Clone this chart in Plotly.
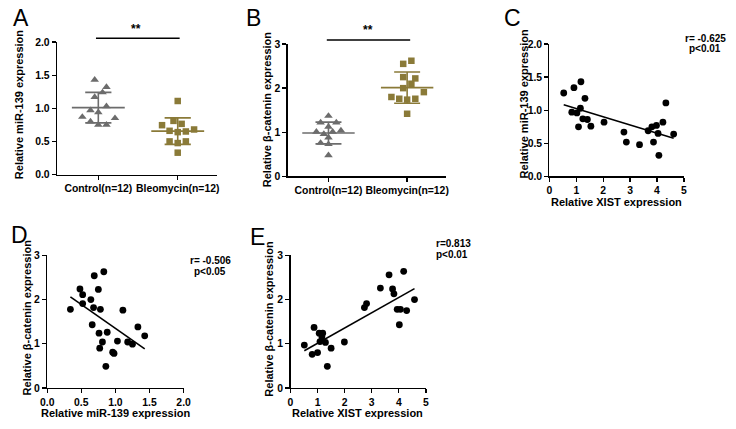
import numpy as np
import plotly.graph_objects as go

W, H = 736, 429
FONT = "Liberation Sans, Arial, sans-serif"
GRAY = "#6c6c6c"
OLIVE = "#8a7a38"

groups = ["Control(n=12)", "Bleomycin(n=12)"]

# Panel A: miR-139
a_control = [1.43, 1.32, 1.24, 1.17, 1.03, 0.97, 0.94, 0.87, 0.85, 0.80, 0.75, 0.75]
a_control_jit = [-3.7, 8.3, 4.3, -3.7, 8.3, -8, 0, -16.3, 17, -8, 0, 8.3]
a_bleo = [1.11, 0.81, 0.765, 0.745, 0.68, 0.66, 0.64, 0.65, 0.50, 0.475, 0.50, 0.33]
a_bleo_jit = [0, -4.3, 4, -16, 16.7, -8.3, 0, 8.3, -8.3, 0, 8.3, 0]

# Panel B: beta-catenin
b_control = [1.37, 1.22, 1.22, 1.125, 1.01, 1.01, 1.04, 0.96, 0.88, 0.76, 0.73, 0.48]
b_control_jit = [0, -8, 8, 0, -12.3, 4.3, 12.7, -4.7, 0, -8, 0, 0]
b_bleo = [2.62, 2.55, 2.25, 2.22, 2.10, 2.00, 1.91, 1.80, 1.76, 1.74, 1.76, 1.42]
b_bleo_jit = [4.3, -4, -4, 8.3, 4.3, -4, 17, -16, -8, 0, 8.3, 0]

# Panel C: XIST vs miR-139
c_xist = [0.53, 0.91, 1.17, 0.83, 1.02, 1.15, 1.32, 1.24, 1.41, 1.08, 1.54, 2.03,
          2.77, 2.86, 3.35, 3.67, 3.81, 3.98, 3.87, 4.04, 4.07, 4.22, 4.33, 4.62]
c_mir = [1.26, 1.34, 1.43, 0.97, 0.96, 1.03, 1.18, 0.87, 0.86, 0.75, 0.76, 0.82,
         0.67, 0.52, 0.48, 0.69, 0.75, 0.77, 0.52, 0.65, 0.32, 0.82, 1.11, 0.64]

# Panel D: miR-139 vs beta-catenin
d_mir = [0.34, 0.48, 0.52, 0.52, 0.69, 0.83, 0.64, 0.75, 0.68, 0.78, 0.66, 0.76,
         0.88, 0.81, 0.77, 0.96, 0.98, 0.86, 1.03, 1.11, 1.18, 1.25, 1.33, 1.43]
d_cat = [1.78, 2.24, 2.11, 1.91, 2.54, 2.63, 2.00, 2.23, 1.82, 1.78, 1.43, 1.24,
         1.26, 1.04, 0.90, 0.81, 0.78, 0.49, 1.06, 1.76, 1.04, 0.99, 1.38, 1.18]

# Panel E: XIST vs beta-catenin
e_xist = [0.51, 0.80, 0.87, 1.00, 1.06, 1.19, 1.09, 1.16, 1.29, 1.36, 1.50, 1.99,
          2.73, 2.81, 3.32, 3.64, 3.77, 3.82, 3.94, 4.06, 4.02, 4.18, 4.29, 4.58]
e_cat = [0.97, 0.76, 1.37, 0.80, 1.24, 1.24, 1.05, 1.16, 1.03, 0.49, 0.90, 1.04,
         1.82, 1.91, 2.26, 2.56, 2.24, 2.13, 1.78, 1.78, 1.43, 2.64, 1.75, 2.00]

stats_c = ["r= -0.625", "p<0.01"]
stats_d = ["r= -0.506", "p<0.05"]
stats_e = ["r=0.813", "p<0.01"]


def px_x(p):
    return p / W


def px_y(p):
    return 1 - p / H


# panel boxes in pixels: (x0, x1, ytop, ybottom)
boxes = {
    "A": (51, 214.5, 38, 174),
    "B": (286, 448, 40, 176),
    "C": (553, 690, 40, 176),
    "D": (41, 180, 257, 393),
    "E": (289, 427, 257, 393),
}
axnames = {"A": ("x", "y"), "B": ("x2", "y2"), "C": ("x3", "y3"), "D": ("x4", "y4"), "E": ("x5", "y5")}

fig = go.Figure()
layout = dict(
    width=W, height=H, margin=dict(l=0, r=0, t=0, b=0),
    paper_bgcolor="white", plot_bgcolor="white", showlegend=False,
    font=dict(family=FONT, color="black"),
)

tickfont = dict(family=FONT, size=10.4, color="black", weight="bold")


def axis_common():
    return dict(showline=True, linecolor="black", linewidth=1.3, ticks="outside",
                ticklen=4, tickwidth=1.3, tickcolor="black", showgrid=False,
                zeroline=False, tickfont=tickfont, fixedrange=True)


for key, (x0, x1, yt, yb) in boxes.items():
    xa, ya = axnames[key]
    xkey = "xaxis" if xa == "x" else "xaxis" + xa[1:]
    ykey = "yaxis" if ya == "y" else "yaxis" + ya[1:]
    layout[xkey] = dict(axis_common(), domain=[px_x(x0), px_x(x1)], anchor=ya)
    layout[ykey] = dict(axis_common(), domain=[px_y(yb), px_y(yt)], anchor=xa)

# category axes
cat_px = {"A": 81.0, "B": 80.0}
for key, yr, dt, tf in [("A", 2.0, 0.5, ".1f"), ("B", 3.0, 1.0, "d")]:
    xa, ya = axnames[key]
    xkey = "xaxis" if xa == "x" else "xaxis" + xa[1:]
    ykey = "yaxis" if ya == "y" else "yaxis" + ya[1:]
    layout[xkey].update(range=[-0.52, 1.5], tickvals=[0, 1], ticktext=groups)
    layout[ykey].update(range=[0, yr], dtick=dt, tick0=0, tickformat=tf)

layout["xaxis3"].update(range=[0, 5], dtick=1, tick0=0)
layout["yaxis3"].update(range=[0, 2], dtick=0.5, tick0=0, tickformat=".1f")
layout["xaxis4"].update(range=[0, 2], dtick=0.5, tick0=0, tickformat=".1f")
layout["yaxis4"].update(range=[0, 3], dtick=1, tick0=0)
layout["xaxis5"].update(range=[0, 5], dtick=1, tick0=0)
layout["yaxis5"].update(range=[0, 3], dtick=1, tick0=0)


def dot_plot(key, vals, jit, pos, color, symbol):
    xa, ya = axnames[key]
    ppu = cat_px[key]
    xs = [pos + j / ppu for j in jit]
    fig.add_trace(go.Scatter(x=xs, y=vals, mode="markers", xaxis=xa, yaxis=ya,
                             marker=dict(symbol=symbol, size=7.5 if symbol == "triangle-up" else 6.5,
                                         color=color, line=dict(width=0)),
                             cliponaxis=False))
    m = float(np.mean(vals))
    s = float(np.std(vals, ddof=1))
    hw, cw = 0.333, 0.165
    segs_x = [pos - hw, pos + hw, None, pos, pos, None,
              pos - cw, pos + cw, None, pos - cw, pos + cw]
    segs_y = [m, m, None, m - s, m + s, None, m + s, m + s, None, m - s, m - s]
    fig.add_trace(go.Scatter(x=segs_x, y=segs_y, mode="lines", xaxis=xa, yaxis=ya,
                             line=dict(color=color, width=1.6)))


dot_plot("A", a_control, a_control_jit, 0, GRAY, "triangle-up")
dot_plot("A", a_bleo, a_bleo_jit, 1, OLIVE, "square")
dot_plot("B", b_control, b_control_jit, 0, GRAY, "triangle-up")
dot_plot("B", b_bleo, b_bleo_jit, 1, OLIVE, "square")


def corr_plot(key, xv, yv):
    xa, ya = axnames[key]
    fig.add_trace(go.Scatter(x=xv, y=yv, mode="markers", xaxis=xa, yaxis=ya,
                             marker=dict(size=6.8, color="black", line=dict(width=0)),
                             cliponaxis=False))
    k, b = np.polyfit(xv, yv, 1)
    lx = [min(xv), max(xv)]
    fig.add_trace(go.Scatter(x=lx, y=[k * v + b for v in lx], mode="lines",
                             xaxis=xa, yaxis=ya, line=dict(color="black", width=1.6)))


corr_plot("C", c_xist, c_mir)
corr_plot("D", d_mir, d_cat)
corr_plot("E", e_xist, e_cat)

annotations = []
shapes = []


def txt(text, x, y, size, weight="bold", angle=0, xanchor="center", yanchor="middle"):
    annotations.append(dict(text=text, x=px_x(x), y=px_y(y), xref="paper", yref="paper",
                            showarrow=False, textangle=angle, xanchor=xanchor, yanchor=yanchor,
                            font=dict(family=FONT, size=size, color="black", weight=weight)))


# panel letters
for letter, x, y in [("A", 4, 13), ("B", 242, 13), ("C", 505, 13), ("D", 2, 236), ("E", 246, 238)]:
    txt(letter, x, y, 23, weight="normal", xanchor="left")

# y-axis titles
txt("Relative miR-139 expression", 13, 102, 11, angle=-90)
txt("Relative β-catenin expression", 265, 107, 11, angle=-90)
txt("Relative miR-139 expression", 527, 101, 11, angle=-90)
txt("Relative β-catenin expression", 20, 321, 11, angle=-90)
txt("Relative β-catenin expression", 267, 322, 11, angle=-90)

# x-axis titles
txt("Relative XIST expression", 621.5, 202, 11)
txt("Relative miR-139 expression", 111, 419, 11)
txt("Relative XIST expression", 357, 419, 11)

# correlation stats
txt(stats_c[0], 712, 34, 10)
txt(stats_c[1], 712, 45, 10)
txt(stats_d[0], 207, 262, 10)
txt(stats_d[1], 207, 273, 10)
txt(stats_e[0], 435, 245, 10, xanchor="left")
txt(stats_e[1], 435, 256, 10, xanchor="left")

# significance bars
for (x0, x1, yl, xs, ys) in [(90.7, 176, 34, 132, 25), (326, 411, 36, 368, 26)]:
    shapes.append(dict(type="line", xref="paper", yref="paper", x0=px_x(x0), x1=px_x(x1),
                       y0=px_y(yl), y1=px_y(yl), line=dict(color="black", width=1.5)))
    txt("**", xs, ys, 12)

layout["annotations"] = annotations
layout["shapes"] = shapes
fig.update_layout(**layout)
fig.write_html("out.html", config={"displayModeBar": False, "staticPlot": True},
               post_script="document.body.style.margin='0';document.body.style.padding='0';")
